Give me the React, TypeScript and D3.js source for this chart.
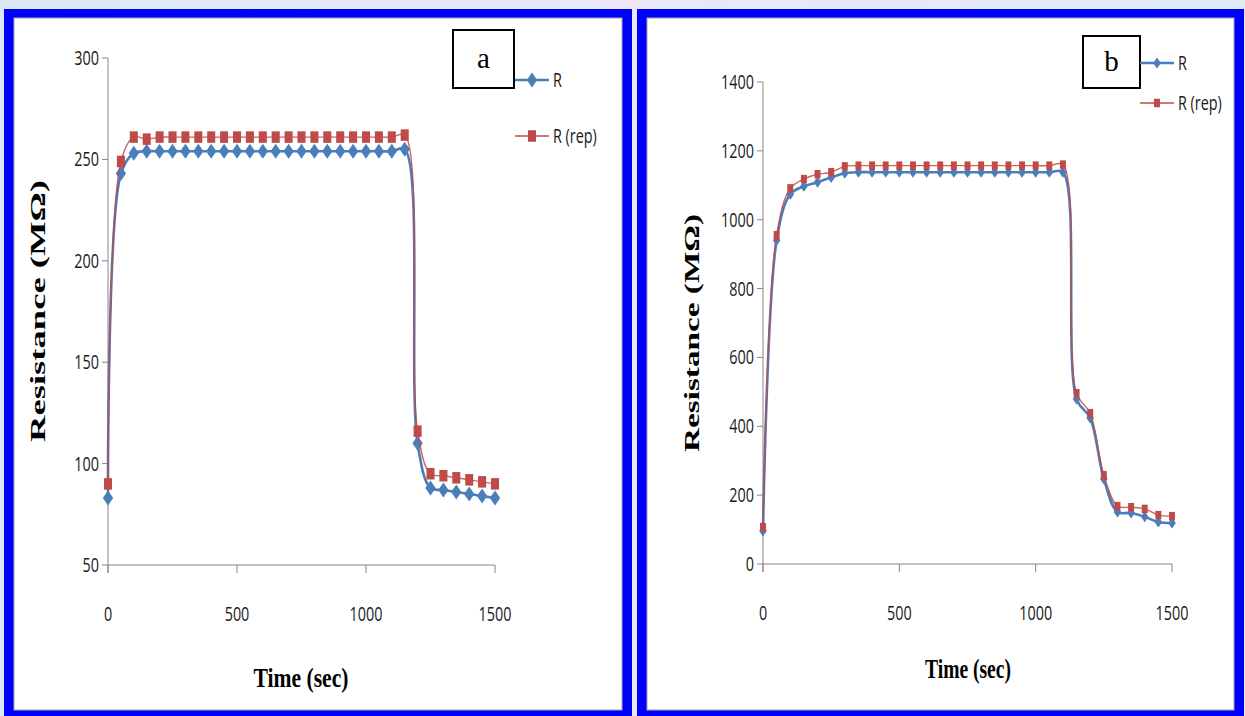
import React from "react";
import * as d3 from "d3";

const W = 1245;
const H = 716;

// time axis (sec), same for both panels
const times = [
  0, 50, 100, 150, 200, 250, 300, 350, 400, 450, 500, 550, 600, 650, 700, 750,
  800, 850, 900, 950, 1000, 1050, 1100, 1150, 1200, 1250, 1300, 1350, 1400, 1450, 1500,
];

// panel a
const rA = [
  83, 243, 253, 254, 254, 254, 254, 254, 254, 254, 254, 254, 254, 254, 254, 254,
  254, 254, 254, 254, 254, 254, 254, 255, 110, 88, 87, 86, 85, 84, 83,
];
const rRepA = [
  90, 249, 261, 260, 261, 261, 261, 261, 261, 261, 261, 261, 261, 261, 261, 261,
  261, 261, 261, 261, 261, 261, 261, 262, 116, 95, 94, 93, 92, 91, 90,
];
const yTicksA = [50, 100, 150, 200, 250, 300];

// panel b
const rB = [
  96, 940, 1074, 1097, 1109, 1123, 1135, 1138, 1138, 1138, 1138, 1138, 1138, 1138, 1138, 1138,
  1138, 1138, 1138, 1138, 1138, 1138, 1138, 479, 424, 247, 151, 148, 137, 122, 119,
];
const rRepB = [
  107, 955, 1091, 1118, 1132, 1138, 1155, 1157, 1157, 1157, 1157, 1157, 1157, 1157, 1157, 1157,
  1157, 1157, 1157, 1157, 1157, 1157, 1160, 496, 438, 258, 168, 165, 160, 142, 139,
];
const yTicksB = [0, 200, 400, 600, 800, 1000, 1200, 1400];

const xTicks = [0, 500, 1000, 1500];

const BLUE = "#4a7ebb";
const RED = "#be4b48";
const AXIS = "#868686";
const SANS = "'Open Sans', 'Liberation Sans', sans-serif";
const SERIF = "'Liberation Serif', 'DejaVu Serif', serif";

type PanelProps = {
  frame: [number, number, number, number];
  xRange: [number, number];
  yRange: [number, number];
  yDomain: [number, number];
  yTicks: number[];
  r: number[];
  rRep: number[];
  letter: string;
  box: [number, number, number, number];
  legR: [number, number];
  legRep: [number, number];
  yTitle: [number, number, number];
  xTitle: [number, number, number];
  mk: number;
};

const Panel = (p: PanelProps) => {
  const x = d3.scaleLinear().domain([0, 1500]).range(p.xRange);
  const y = d3.scaleLinear().domain(p.yDomain).range(p.yRange);
  const line = d3
    .line<number>()
    .x((_, i) => x(times[i]))
    .y((d) => y(d))
    .curve(d3.curveCatmullRom.alpha(0.5));

  const [fx0, fy0, fx1, fy1] = p.frame;
  const dw = p.mk * 4.5;
  const dh = p.mk * 6.5;
  const diamond = (cx: number, cy: number) =>
    `M${cx},${cy - dh}L${cx + dw},${cy}L${cx},${cy + dh}L${cx - dw},${cy}Z`;
  const sqW = p.mk * 7;
  const sqH = p.mk * 10;

  return (
    <g>
      <rect x={fx0} y={fy0} width={fx1 - fx0} height={fy1 - fy0} fill="#0000ff" />
      <rect
        x={fx0 + 10}
        y={fy0 + 9}
        width={fx1 - fx0 - 20}
        height={fy1 - fy0 - 15}
        fill="#fff"
        stroke="#a6a6a6"
        strokeWidth={1}
      />

      {/* axes */}
      <line x1={p.xRange[0]} x2={p.xRange[0]} y1={p.yRange[1]} y2={p.yRange[0] + 8} stroke={AXIS} />
      <line x1={p.xRange[0]} x2={p.xRange[1]} y1={p.yRange[0]} y2={p.yRange[0]} stroke={AXIS} />
      {p.yTicks.map((t) => (
        <g key={"y" + t}>
          <line x1={p.xRange[0] - 6} x2={p.xRange[0]} y1={y(t)} y2={y(t)} stroke={AXIS} />
          <g transform={`translate(${p.xRange[0] - 9},${y(t) + 7}) scale(0.72,1)`}>
            <text textAnchor="end" fontFamily={SANS} fontSize={20} fill="#1a1a1a">
              {t}
            </text>
          </g>
        </g>
      ))}
      {xTicks.map((t) => (
        <g key={"x" + t}>
          <line x1={x(t)} x2={x(t)} y1={p.yRange[0]} y2={p.yRange[0] + 8} stroke={AXIS} />
          <g transform={`translate(${x(t)},${p.yRange[0] + 56}) scale(0.72,1)`}>
            <text textAnchor="middle" fontFamily={SANS} fontSize={20} fill="#1a1a1a">
              {t}
            </text>
          </g>
        </g>
      ))}

      {/* axis titles */}
      <text
        transform={`translate(${p.yTitle[0]},${p.yTitle[1]}) rotate(-90)`}
        textAnchor="middle"
        fontFamily={SERIF}
        fontWeight="bold"
        fontSize={21}
        textLength={p.yTitle[2]}
        lengthAdjust="spacingAndGlyphs"
        dy={7}
      >
        Resistance (MΩ)
      </text>
      <text
        x={p.xTitle[0] - p.xTitle[2] / 2}
        y={p.xTitle[1]}
        fontFamily={SERIF}
        fontWeight="bold"
        fontSize={28}
        textLength={p.xTitle[2]}
        lengthAdjust="spacingAndGlyphs"
      >
        Time (sec)
      </text>

      {/* series R */}
      <path d={line(p.r) || ""} fill="none" stroke={BLUE} strokeWidth={2.6} />
      {p.r.map((v, i) => (
        <path key={"d" + i} d={diamond(x(times[i]), y(v))} fill={BLUE} />
      ))}
      {/* series R (rep) */}
      <path d={line(p.rRep) || ""} fill="none" stroke={RED} strokeWidth={1.4} opacity={0.85} />
      {p.rRep.map((v, i) => (
        <rect
          key={"s" + i}
          x={x(times[i]) - sqW / 2}
          y={y(v) - sqH / 2}
          width={sqW}
          height={sqH}
          fill={RED}
        />
      ))}

      {/* label box */}
      <rect
        x={p.box[0]}
        y={p.box[1]}
        width={p.box[2] - p.box[0]}
        height={p.box[3] - p.box[1]}
        fill="#fff"
        stroke="#000"
        strokeWidth={2}
      />
      <text
        x={(p.box[0] + p.box[2]) / 2}
        y={(p.box[1] + p.box[3]) / 2 + 9}
        textAnchor="middle"
        fontFamily={SERIF}
        fontSize={29}
      >
        {p.letter}
      </text>

      {/* legend */}
      <line x1={p.legR[0]} x2={p.legR[0] + 34} y1={p.legR[1]} y2={p.legR[1]} stroke={BLUE} strokeWidth={2.6} />
      <path d={diamond(p.legR[0] + 17, p.legR[1])} fill={BLUE} />
      <g transform={`translate(${p.legR[0] + 38},${p.legR[1] + 7}) scale(0.72,1)`}>
        <text fontFamily={SANS} fontSize={20} fill="#1a1a1a">
          R
        </text>
      </g>
      <line x1={p.legRep[0]} x2={p.legRep[0] + 34} y1={p.legRep[1]} y2={p.legRep[1]} stroke={RED} strokeWidth={1.4} />
      <rect
        x={p.legRep[0] + 17 - sqW / 2}
        y={p.legRep[1] - sqH / 2}
        width={sqW}
        height={sqH}
        fill={RED}
      />
      <g transform={`translate(${p.legRep[0] + 38},${p.legRep[1] + 7}) scale(0.72,1)`}>
        <text fontFamily={SANS} fontSize={20} fill="#1a1a1a">
          R (rep)
        </text>
      </g>
    </g>
  );
};

export default function App() {
  return (
    <svg width={W} height={H} style={{ position: "fixed", left: 0, top: 0 }}>
      <defs>
        <linearGradient id="bg" x1="0" x2="1" y1="0" y2="0">
          <stop offset="0" stopColor="#dbe9f7" />
          <stop offset="0.5" stopColor="#ebe7f7" />
          <stop offset="1" stopColor="#dfeaf8" />
        </linearGradient>
      </defs>
      <rect width={W} height={H} fill="url(#bg)" />
      <Panel
        frame={[4, 9, 632, 716]}
        xRange={[108, 495]}
        yRange={[565, 58]}
        yDomain={[50, 300]}
        yTicks={yTicksA}
        r={rA}
        rRep={rRepA}
        letter="a"
        box={[453, 30, 514, 88]}
        legR={[515, 80]}
        legRep={[515, 136]}
        yTitle={[38, 311, 262]}
        xTitle={[301, 687, 95]}
        mk={1.15}
      />
      <Panel
        frame={[637, 9, 1244, 716]}
        xRange={[763, 1172]}
        yRange={[564, 82]}
        yDomain={[0, 1400]}
        yTicks={yTicksB}
        r={rB}
        rRep={rRepB}
        letter="b"
        box={[1083, 36, 1140, 88]}
        legR={[1140, 63]}
        legRep={[1140, 103]}
        yTitle={[692, 333, 238]}
        xTitle={[968, 678, 86]}
        mk={0.85}
      />
    </svg>
  );
}
